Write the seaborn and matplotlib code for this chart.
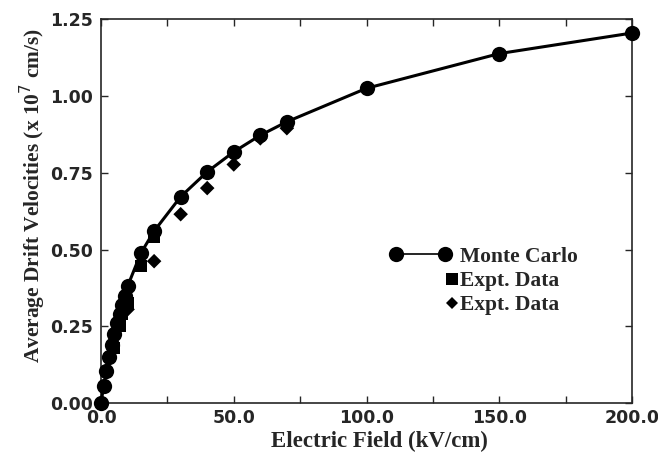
import matplotlib
matplotlib.use("Agg")
import matplotlib.pyplot as plt
import seaborn as sns
import pandas as pd
from matplotlib.lines import Line2D
from matplotlib.ticker import MultipleLocator, FormatStrFormatter
from matplotlib.legend_handler import HandlerLine2D

# Monte Carlo
mc_field = [0, 1, 2, 3, 4, 5, 6, 7, 8, 9, 10, 15, 20, 30, 40, 50, 60, 70, 100, 150, 200]
mc_vel = [0.0, 0.055, 0.105, 0.15, 0.19, 0.225, 0.26, 0.29, 0.32, 0.35, 0.38, 0.488,
          0.56, 0.672, 0.753, 0.818, 0.872, 0.916, 1.025, 1.138, 1.205]

# experiment 1 (squares)
sq_field = [5, 7, 8, 10, 15, 20]
sq_vel = [0.18, 0.25, 0.29, 0.325, 0.445, 0.54]

# experiment 2 (diamonds)
dm_field = [10, 20, 30, 40, 50, 60, 70]
dm_vel = [0.305, 0.462, 0.615, 0.70, 0.777, 0.862, 0.895]

df_mc = pd.DataFrame({"E": mc_field, "v": mc_vel})
df_sq = pd.DataFrame({"E": sq_field, "v": sq_vel})
df_dm = pd.DataFrame({"E": dm_field, "v": dm_vel})

sns.set_style("ticks")
plt.rcParams["font.family"] = ["DejaVu Sans"]

fig = plt.figure(figsize=(6.58, 4.57), dpi=100)
ax = fig.add_axes([0.1535, 0.118, 0.807, 0.840])

sns.scatterplot(data=df_sq, x="E", y="v", marker="s", s=75, color="black",
                edgecolor="none", ax=ax, zorder=2, clip_on=False)
sns.scatterplot(data=df_dm, x="E", y="v", marker="D", s=55, color="black",
                edgecolor="none", ax=ax, zorder=2, clip_on=False)
sns.lineplot(data=df_mc, x="E", y="v", color="black", linewidth=2.2,
             marker="o", markersize=11, markeredgewidth=0, ax=ax, zorder=3,
             clip_on=False)

ax.set_xlim(0, 200)
ax.set_ylim(0, 1.25)
ax.xaxis.set_major_locator(MultipleLocator(50))
ax.xaxis.set_minor_locator(MultipleLocator(25))
ax.yaxis.set_major_locator(MultipleLocator(0.25))
ax.xaxis.set_major_formatter(FormatStrFormatter("%.1f"))
ax.yaxis.set_major_formatter(FormatStrFormatter("%.2f"))
ax.tick_params(which="both", direction="in", top=True, right=True,
               length=5, width=1, labelsize=12.5, pad=6)
ax.tick_params(axis="x", pad=4)
for lab in ax.get_xticklabels() + ax.get_yticklabels():
    lab.set_fontweight("bold")
for sp in ax.spines.values():
    sp.set_linewidth(1.2)
    sp.set_visible(True)

serif = ["Liberation Serif", "DejaVu Serif"]
ax.set_xlabel("Electric Field (kV/cm)", fontsize=16.5, fontweight="bold",
              family=serif)
ax.set_ylabel("Average Drift Velocities (x 10$^7$ cm/s)", fontsize=15.4,
              fontweight="bold", family=serif)
ax.xaxis.set_label_coords(0.525, -0.073)
ax.yaxis.set_label_coords(-0.10, 0.54)


class RightMarker(HandlerLine2D):
    # put the single marker at the right end of the handle, like the original
    def get_xdata(self, legend, xdescent, ydescent, width, height, fontsize):
        xdata, xm = super().get_xdata(legend, xdescent, ydescent, width, height, fontsize)
        right = -xdescent + width
        return [right, right], [right]


h_mc = Line2D([], [], color="black", linewidth=1.2, marker="o", markersize=11,
              markeredgewidth=0)
h_sq = Line2D([], [], linestyle="none", color="black", marker="s", markersize=8.5,
              markeredgewidth=0)
h_dm = Line2D([], [], linestyle="none", color="black", marker="D", markersize=6.5,
              markeredgewidth=0)
ax.legend([h_mc, h_sq, h_dm], ["Monte Carlo", "Expt. Data", "Expt. Data"],
          loc="upper left", bbox_to_anchor=(0.527, 0.43), frameon=False,
          handlelength=2.9, handletextpad=0.4, labelspacing=0.2, numpoints=2,
          handler_map={h_sq: RightMarker(numpoints=1), h_dm: RightMarker(numpoints=1)},
          prop={"family": serif, "weight": "bold", "size": 15.5}, borderaxespad=0)

fig.savefig("out.png", dpi=100)
